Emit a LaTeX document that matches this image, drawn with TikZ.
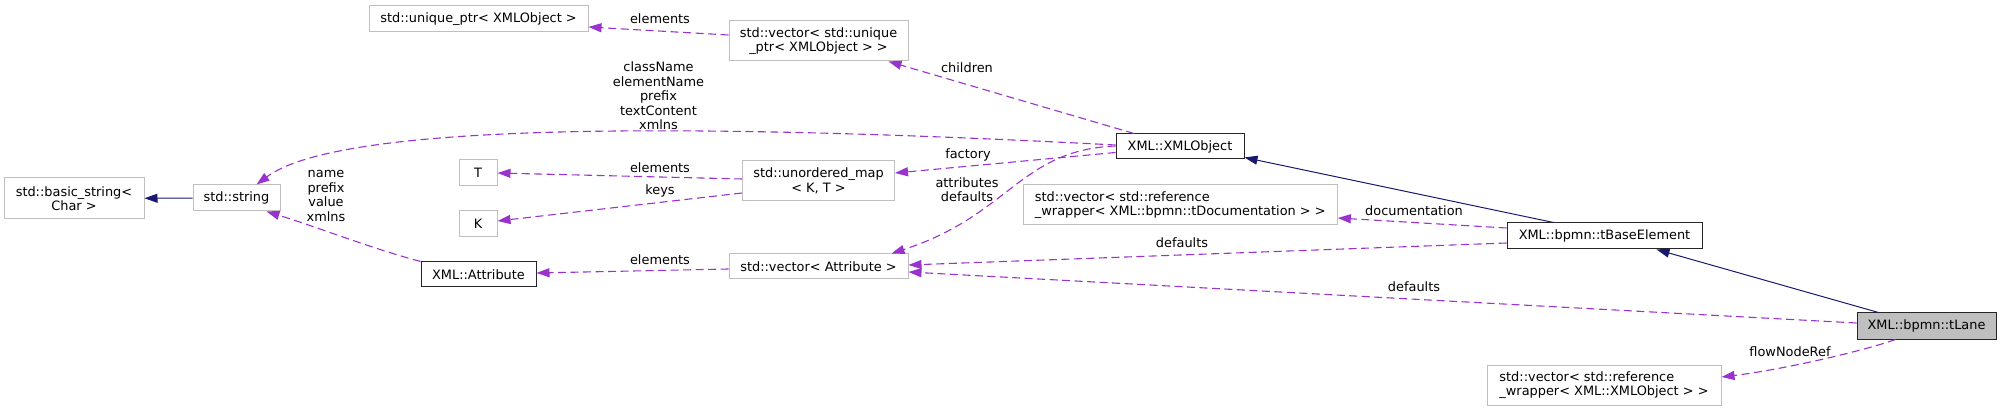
\documentclass[tikz,border=0pt]{standalone}
\usepackage{fontspec}
\setmainfont{DejaVu Sans}
\usetikzlibrary{arrows.meta}

\definecolor{inhcol}{HTML}{191970}
\definecolor{usecol}{HTML}{9A32CD}
\definecolor{undoc}{HTML}{BFBFBF}

\begin{document}
\begin{tikzpicture}[
    x=1pt, y=-1pt,
    font=\fontsize{12.9}{14.5}\selectfont,
    cls/.style     = {rectangle, draw=undoc, line width=1pt, inner sep=0pt,
                      align=center, fill=white},
    doc/.style     = {cls, draw=black!85},
    focus/.style   = {cls, draw=black!85, fill=undoc},
    inherit/.style = {draw=inhcol, line width=1pt,
                      -{Triangle[length=13pt,width=9pt]}},
    uses/.style    = {draw=usecol, line width=1.1pt, dash pattern=on 8pt off 4.5pt,
                      -{Triangle[length=13pt,width=9pt]}},
    elabel/.style  = {align=center, inner sep=0pt}
]
\useasboundingbox (0,0) rectangle (2001,411);

% ========= class boxes =========
\node[cls, minimum width=219, minimum height=26] (uptr)     at (478.5,19)  {std::unique\_ptr< XMLObject >};
\node[cls, minimum width=140, minimum height=41] (basicstr) at (74,198.5)  {std::basic\_string<\\Char >};
\node[cls, minimum width=87,  minimum height=26] (stdstr)   at (236.5,198) {std::string};
\node[cls, minimum width=38,  minimum height=26] (tT)       at (478,173)   {T};
\node[cls, minimum width=38,  minimum height=26] (tK)       at (478,224)   {K};
\node[doc, minimum width=115, minimum height=25] (attr)     at (478.5,274.5) {XML::Attribute};
\node[cls, minimum width=179, minimum height=40] (vecuptr)  at (818.5,41)  {std::vector< std::unique\\\_ptr< XMLObject > >};
\node[cls, minimum width=152, minimum height=40] (umap)     at (818.5,181) {std::unordered\_map\\< K, T >};
\node[cls, minimum width=179, minimum height=25] (vecattr)  at (818.5,266.5) {std::vector< Attribute >};
\node[doc, minimum width=128, minimum height=25] (xmlobj)   at (1180,146.5) {XML::XMLObject};
\node[cls, minimum width=314, minimum height=40, align=left] (vecdoc) at (1180.3,205)
    {std::vector< std::reference\\\_wrapper< XML::bpmn::tDocumentation > >};
\node[doc, minimum width=195, minimum height=26] (tbase)    at (1604.5,236) {XML::bpmn::tBaseElement};
\node[focus, minimum width=139, minimum height=26] (tlane)  at (1926.5,326) {XML::bpmn::tLane};
\node[cls, minimum width=234, minimum height=40, align=left] (vecxml) at (1604,385)
    {std::vector< std::reference\\\_wrapper< XML::XMLObject > >};

% ========= inheritance =========
\draw[inherit] (stdstr) -- (basicstr);
\draw[inherit] ([xshift=-51pt]tbase.north) -- ([yshift=-11pt]xmlobj.east);
\draw[inherit] ([xshift=-48pt]tlane.north) -- ([xshift=52pt]tbase.south);

% ========= usage =========
\draw[uses] ([yshift=1.5pt]xmlobj.west) .. controls (600,118) and (330,130) .. ([xshift=20pt]stdstr.north);
\draw[uses] (attr.north west) .. controls (370,248) and (320,228) .. ([xshift=30pt]stdstr.south);
\draw[uses] ([yshift=6pt]vecuptr.west) -- ([yshift=-8pt]uptr.east);
\draw[uses] ([xshift=-46pt]xmlobj.north) -- ([xshift=-20pt]vecuptr.south east);
\draw[uses] ([yshift=2pt]umap.west) -- (tT.east);
\draw[uses] ([yshift=-12pt]umap.west) -- ([yshift=3pt]tK.east);
\draw[uses] ([yshift=-6pt]xmlobj.west) -- ([yshift=8pt]umap.east);
\draw[uses] ([yshift=0.5pt]xmlobj.west) .. controls (1020,150) and (1010,215) .. ([xshift=-17pt]vecattr.north east);
\draw[uses] ([yshift=-2.5pt]vecattr.west) -- ([yshift=1.5pt]attr.east);
\draw[uses] ([yshift=8pt]tbase.west) -- ([yshift=-13pt]vecdoc.east);
\draw[uses] ([yshift=-7pt]tbase.west) -- ([yshift=1.5pt]vecattr.east);
\draw[uses] ([yshift=3pt]tlane.west) -- ([yshift=-5.5pt]vecattr.east);
\draw[uses] ([xshift=-31pt]tlane.south) .. controls (1860,352) and (1780,370) .. ([yshift=8pt]vecxml.east);

% ========= edge labels =========
\node[elabel] (lbluptr)  at (660,19)    {elements};
\node[elabel] (lblobj)   at (658.5,96)  {className\\elementName\\prefix\\textContent\\xmlns};
\node[elabel] (lblattr)  at (326,196)   {name\\prefix\\value\\xmlns};
\node[elabel] (lblT)     at (660,168)   {elements};
\node[elabel] (lblK)     at (660,191)   {keys};
\node[elabel] (lblvattr) at (660,260)   {elements};
\node[elabel] (lblchild) at (967,68)    {children};
\node[elabel] (lblfact)  at (968,155)   {factory};
\node[elabel] (lblattrs) at (967,189.5) {attributes\\defaults};
\node[elabel] (lbldoc)   at (1414,211)  {documentation};
\node[elabel] (lbldef1)  at (1182,243)  {defaults};
\node[elabel] (lbldef2)  at (1414,287)  {defaults};
\node[elabel] (lblflow)  at (1790,352)  {flowNodeRef};

\end{tikzpicture}
\end{document}
